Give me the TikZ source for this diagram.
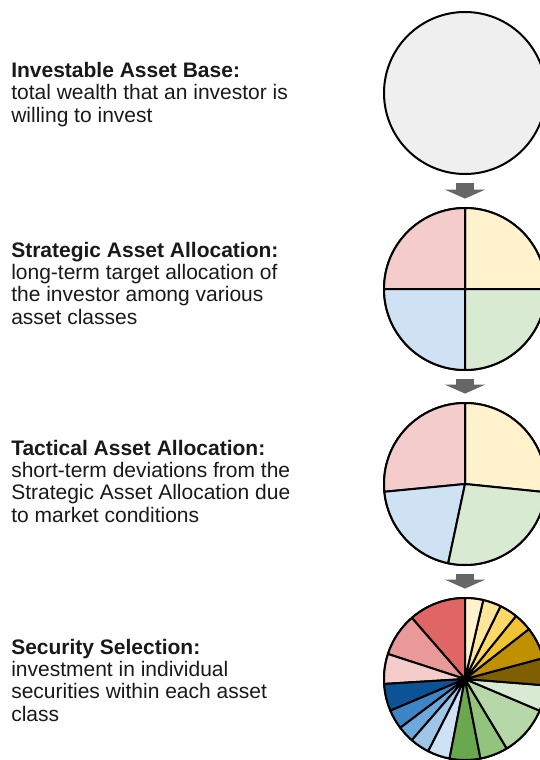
\documentclass[tikz,border=0pt]{standalone}
\usepackage{fontspec}
\setmainfont{Liberation Sans}
\usetikzlibrary{arrows.meta}

\definecolor{basegray}{HTML}{EFEFEF}
\definecolor{arrowgray}{HTML}{666666}
\definecolor{red3}{HTML}{F4CCCC}
\definecolor{red2}{HTML}{EA9999}
\definecolor{red1}{HTML}{E06666}
\definecolor{yel3}{HTML}{FFF2CC}
\definecolor{yel2}{HTML}{FFE599}
\definecolor{yel1}{HTML}{FFD966}
\definecolor{yel0}{HTML}{F1C232}
\definecolor{gold}{HTML}{BF9000}
\definecolor{brown}{HTML}{7F6000}
\definecolor{blu3}{HTML}{CFE2F3}
\definecolor{blu2}{HTML}{9FC5E8}
\definecolor{blu1}{HTML}{6FA8DC}
\definecolor{blu0}{HTML}{3D85C6}
\definecolor{navy}{HTML}{0B5394}
\definecolor{grn3}{HTML}{D9EAD3}
\definecolor{grn2}{HTML}{B6D7A8}
\definecolor{grn1}{HTML}{93C47D}
\definecolor{grn0}{HTML}{6AA84F}

% center, from, to, colour
\newcommand\pieslice[4]{%
  \filldraw [slice, fill=#4] (#1) -- ++(#2:60.75pt)
    arc [start angle=#2, end angle=#3, radius=60.75pt] -- cycle;}

\begin{document}
\begin{tikzpicture}
  [
    x=0.75pt, y=0.75pt,
    disc/.style={
      circle,
      draw=black,
      line width=1.5pt,
      minimum size=121.5pt,
      inner sep=0pt
    },
    slice/.style={
      draw=black,
      line width=1.5pt,
      line join=round
    },
    blurb/.style={
      anchor=base west,
      inner sep=0pt,
      align=left,
      text=black!90,
      font=\fontsize{15.75pt}{16.7pt}\selectfont
    },
    flow/.style={
      draw=arrowgray,
      line width=13.5pt,
      -{Triangle[width=30pt,length=6.75pt]},
      shorten <=6.3pt,
      shorten >=6.3pt
    }
  ]

  \useasboundingbox (0,0) rectangle (539,-760);

  % texts (placed at the baseline of their last line)
  \node [blurb] (base-txt) at (11,-122) {\textbf{Investable Asset Base:}\\
    total wealth that an investor is\\ willing to invest};
  \node [blurb] (saa-txt) at (11,-324) {\textbf{Strategic Asset Allocation:}\\
    long-term target allocation of\\ the investor among various\\ asset classes};
  \node [blurb] (taa-txt) at (11,-522) {\textbf{Tactical Asset Allocation:}\\
    short-term deviations from the\\ Strategic Asset Allocation due\\ to market conditions};
  \node [blurb] (sel-txt) at (11,-721) {\textbf{Security Selection:}\\
    investment in individual\\ securities within each asset\\ class};

  % discs
  \node [disc, fill=basegray] (base) at (465,-93) {};
  \node [disc] (saa) at (465,-289) {};
  \node [disc] (taa) at (465,-484) {};
  \node [disc] (sel) at (465,-679) {};

  \foreach \a/\b/\c in {0/90/yel3, 90/180/red3, 180/270/blu3, 270/360/grn3}
    \pieslice{saa.center}{\a}{\b}{\c};

  \foreach \a/\b/\c in {-5.8/90/yel3, 90/185.5/red3, 185.5/258/blu3, 258/354.2/grn3}
    \pieslice{taa.center}{\a}{\b}{\c};

  \foreach \a/\b/\c in {90/131/red1, 131/162/red2, 162/183.5/red3,
      183.5/203/navy, 203/217/blu0, 217/229/blu1, 229/243/blu2, 243/259/blu3,
      259/281/grn0, 281/301/grn1, 301/337/grn2, 337/355.5/grn3,
      355.5/375/brown, 375/398/gold, 398/411/yel0, 411/424/yel1,
      424/437/yel2, 437/450/yel3}
    \pieslice{sel.center}{\a}{\b}{\c};

  \draw [flow] (base) -- (saa);
  \draw [flow] (saa) -- (taa);
  \draw [flow] (taa) -- (sel);

\end{tikzpicture}
\end{document}
